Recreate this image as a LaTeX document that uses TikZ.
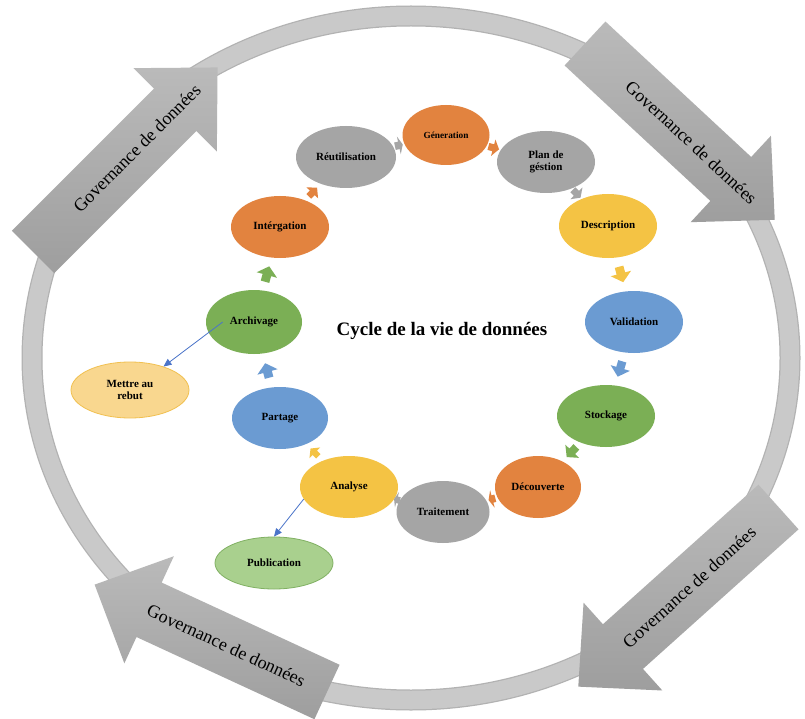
\documentclass[tikz,border=0pt]{standalone}
\usepackage{fontspec}
\setmainfont{Liberation Serif}
\usetikzlibrary{shapes.geometric,decorations.markings,calc,arrows.meta}

\definecolor{cOrange}{HTML}{E2833F}
\definecolor{cGray}{HTML}{A5A5A5}
\definecolor{cYellow}{HTML}{F4C344}
\definecolor{cBlue}{HTML}{6B9BD2}
\definecolor{cGreen}{HTML}{7BAF55}
\definecolor{cRebutFill}{HTML}{F9D78F}
\definecolor{cRebutLine}{HTML}{F1C050}
\definecolor{cPubFill}{HTML}{A9D08E}
\definecolor{cPubLine}{HTML}{80B062}
\definecolor{cLink}{HTML}{4A74C9}
\definecolor{cRing}{HTML}{C9C9C9}
\definecolor{cRingEdge}{HTML}{B2B2B2}
\definecolor{cGovLight}{HTML}{BABABA}
\definecolor{cGovDark}{HTML}{9E9E9E}

\tikzset{
  stage/.style={ellipse, draw=none, inner sep=0pt, text=black, align=center,
    font=\bfseries\fontsize{11}{12.5}\selectfont},
  govtext/.style={font=\fontsize{18}{20}\selectfont, text=black, inner sep=0pt},
  title/.style={font=\bfseries\fontsize{19}{22}\selectfont, text=black},
  link/.style={draw=cLink, line width=0.8pt, -{Triangle[length=8pt,width=7pt]}},
}

% small block arrow placed in the middle of the gap between two stages
% #1 from, #2 to, #3 length, #4 head width, #5 head length, #6 colour
\newcommand\stepflow[6]{%
  \path[decoration={markings, mark=at position 0.5 with {%
      \fill[#6] (-#3/2,-0.21*#4) -- (#3/2-#5,-0.21*#4) -- (#3/2-#5,-#4/2) -- (#3/2,0)
        -- (#3/2-#5,#4/2) -- (#3/2-#5,0.21*#4) -- (-#3/2,0.21*#4) -- cycle;}},
    decorate] (#1) -- (#2);}

% large governance arrow
% #1 name, #2 tail x, #3 tail y, #4 direction, #5 length, #6 text position, #7 text angle
\newcommand\govarrow[7]{%
  \begin{scope}[shift={(#2,#3)}, rotate=#4]
    \path[top color=cGovLight, bottom color=cGovDark]
      (0,-30) -- (#5-60,-30) -- (#5-60,-59) -- (#5,0) -- (#5-60,59) -- (#5-60,30) -- (0,30) -- cycle;
    \node[govtext, rotate=#7] (#1) at (#6,0) {Governance de données};
  \end{scope}}

\begin{document}
\begin{tikzpicture}[x=1pt, y=-1pt]
  \useasboundingbox (0,0) rectangle (805,719);
  \fill[white] (0,0) rectangle (805,719);

  % outer ring
  \draw[cRingEdge, line width=21pt] (411,358) ellipse [x radius=379pt, y radius=342pt];
  \draw[cRing, line width=18.5pt] (411,358) ellipse [x radius=379pt, y radius=342pt];

  % governance arrows around the ring
  \govarrow{govTL}{33}{252}{45}{261}{147}{45}
  \govarrow{govTR}{585}{43.5}{-42.9}{259}{145}{-42.9}
  \govarrow{govBR}{778.5}{507}{221.9}{269}{120}{41.9}
  \govarrow{govBL}{327}{692}{155.2}{256}{111}{-24.8}

  % title
  \node[title] (title) at (442,331) {Cycle de la vie de données};

  % stages of the cycle
  \node[stage, fill=cOrange, minimum width=87pt, minimum height=60pt,
        font=\bfseries\fontsize{9.3}{11}\selectfont] (gen) at (446,135) {Géneration};
  \node[stage, fill=cGray, minimum width=100pt, minimum height=62pt] (reut) at (346,157) {Réutilisation};
  \node[stage, fill=cGray, minimum width=98pt, minimum height=62pt] (plan) at (546,162) {Plan de\\géstion};
  \node[stage, fill=cYellow, minimum width=98pt, minimum height=64pt] (desc) at (608,226) {Description};
  \node[stage, fill=cBlue, minimum width=98pt, minimum height=62pt] (valid) at (634,322) {Validation};
  \node[stage, fill=cGreen, minimum width=98pt, minimum height=62pt] (stock) at (606,416) {Stockage};
  \node[stage, fill=cOrange, minimum width=86pt, minimum height=62pt] (decouv) at (538,487) {Découverte};
  \node[stage, fill=cGray, minimum width=93pt, minimum height=62pt] (trait) at (443,512) {Traitement};
  \node[stage, fill=cYellow, minimum width=98pt, minimum height=62pt] (analyse) at (349,487) {Analyse};
  \node[stage, fill=cBlue, minimum width=96pt, minimum height=62pt] (partage) at (280,418) {Partage};
  \node[stage, fill=cGreen, minimum width=96pt, minimum height=64pt] (archiv) at (254,322) {Archivage};
  \node[stage, fill=cOrange, minimum width=98pt, minimum height=62pt] (integ) at (280,227) {Intérgation};

  % side outputs
  \node[stage, fill=cRebutFill, draw=cRebutLine, line width=0.8pt,
        minimum width=118pt, minimum height=56pt] (rebut) at (130,390) {Mettre au\\rebut};
  \node[stage, fill=cPubFill, draw=cPubLine, line width=0.8pt,
        minimum width=118pt, minimum height=52pt] (pub) at (274,563) {Publication};

  % flow between stages
  \stepflow{reut}{gen}{8}{18}{4}{cGray}
  \stepflow{gen}{plan}{11}{17}{6}{cOrange}
  \stepflow{plan}{desc}{11}{17}{6}{cGray}
  \stepflow{desc}{valid}{16}{21}{9}{cYellow}
  \stepflow{valid}{stock}{16}{20}{9}{cBlue}
  \stepflow{stock}{decouv}{14}{19}{8}{cGreen}
  \stepflow{decouv}{trait}{7}{18}{4}{cOrange}
  \stepflow{trait}{analyse}{6}{16}{3}{cGray}
  \stepflow{analyse}{partage}{11}{15}{6}{cYellow}
  \stepflow{partage}{archiv}{15}{21}{9}{cBlue}
  \stepflow{archiv}{integ}{16}{21}{9}{cGreen}
  \stepflow{integ}{reut}{12}{16}{7}{cOrange}

  % links to the side outputs
  \draw[link] ($(archiv.west)!0.35!(archiv.center)$) -- (rebut.35);
  \draw[link] (analyse.195) -- (pub.north);
\end{tikzpicture}
\end{document}
